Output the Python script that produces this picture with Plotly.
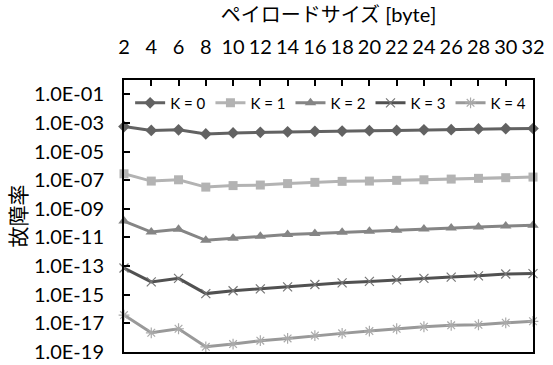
import plotly.graph_objects as go

payload = [2, 4, 6, 8, 10, 12, 14, 16, 18, 20, 22, 24, 26, 28, 30, 32]
k0 = [5.6e-4, 3.0e-4, 3.3e-4, 1.7e-4, 2.0e-4, 2.2e-4, 2.4e-4, 2.6e-4, 2.7e-4, 2.9e-4, 3.0e-4, 3.3e-4, 3.4e-4, 3.8e-4, 4.0e-4, 4.1e-4]
k1 = [2.8e-7, 8.7e-8, 1.07e-7, 3.3e-8, 4.2e-8, 4.6e-8, 5.8e-8, 7.1e-8, 8.3e-8, 8.7e-8, 9.8e-8, 1.07e-7, 1.2e-7, 1.35e-7, 1.5e-7, 1.66e-7]
k2 = [1.4e-10, 2.4e-11, 3.7e-11, 6.3e-12, 8.7e-12, 1.2e-11, 1.6e-11, 1.9e-11, 2.3e-11, 2.7e-11, 3.2e-11, 3.9e-11, 4.6e-11, 5.4e-11, 6.3e-11, 7.1e-11]
k3 = [7.4e-14, 7.9e-15, 1.4e-14, 1.2e-15, 1.9e-15, 2.6e-15, 3.5e-15, 5.2e-15, 6.8e-15, 8.5e-15, 1.1e-14, 1.4e-14, 1.7e-14, 2.1e-14, 2.8e-14, 3.0e-14]
k4 = [3.8e-17, 2.2e-18, 4.2e-18, 2.3e-19, 3.6e-19, 6.2e-19, 8.9e-19, 1.4e-18, 2.0e-18, 2.9e-18, 4.2e-18, 5.8e-18, 7.3e-18, 8.0e-18, 1.1e-17, 1.4e-17]
series_names = ["K = 0", "K = 1", "K = 2", "K = 3", "K = 4"]
y_tickvals = [1e-19, 1e-17, 1e-15, 1e-13, 1e-11, 1e-9, 1e-7, 1e-5, 1e-3, 1e-1]
y_ticktext = ["1.0E-19", "1.0E-17", "1.0E-15", "1.0E-13", "1.0E-11",
              "1.0E-09", "1.0E-07", "1.0E-05", "1.0E-03", "1.0E-01"]
x_title = "ペイロードサイズ [byte]"
y_title = "故障率"

FONT = "Lato, 'Noto Sans CJK JP', sans-serif"

styles = [
    dict(line_color="#626262", marker=dict(symbol="diamond", size=9, color="#626262")),
    dict(line_color="#b3b3b3", marker=dict(symbol="square", size=9, color="#b3b3b3")),
    dict(line_color="#858585", marker=dict(symbol="triangle-up", size=10, color="#858585")),
    dict(line_color="#515151", marker=dict(symbol="x-thin-open", size=9, color="#777777",
                                          line=dict(color="#777777", width=1.2))),
    dict(line_color="#999999", marker=dict(symbol="asterisk-open", size=9, color="#aaaaaa",
                                          line=dict(color="#aaaaaa", width=1.2))),
]

fig = go.Figure()
for name, vals, st in zip(series_names, [k0, k1, k2, k3, k4], styles):
    fig.add_trace(go.Scatter(
        x=payload, y=vals, name=name, mode="lines+markers",
        line=dict(color=st["line_color"], width=3),
        marker=st["marker"], cliponaxis=False,
    ))

fig.update_layout(
    width=553, height=365,
    margin=dict(l=124, r=20, t=80, b=13),
    paper_bgcolor="white", plot_bgcolor="white",
    font=dict(family=FONT, size=20, color="black"),
    showlegend=True,
    legend=dict(orientation="h", x=0.015, y=0.915, xanchor="left", yanchor="middle",
                bgcolor="rgba(0,0,0,0)", font=dict(size=15), itemwidth=30,
                tracegroupgap=0),
)
fig.update_xaxes(
    side="top", range=[2, 32], tickvals=payload, ticktext=[str(v) for v in payload],
    showline=True, linecolor="black", linewidth=2, mirror=True,
    ticks="inside", ticklen=6, tickcolor="black", tickwidth=1.5,
    showgrid=False, zeroline=False, ticklabelstandoff=16, automargin=False,
    title=dict(text=x_title, font=dict(size=20), standoff=6),
)
fig.update_yaxes(
    type="log", range=[-19, 0], tickvals=y_tickvals, ticktext=y_ticktext,
    showline=True, linecolor="black", linewidth=2, mirror=True,
    ticks="inside", ticklen=6, tickcolor="black", tickwidth=1.5,
    showgrid=False, zeroline=False, ticklabelstandoff=14, automargin=False,
    tickfont=dict(size=20),
    title=dict(text=y_title, font=dict(size=21), standoff=2),
)

fig.write_html("out.html", post_script="document.body.style.margin='0';",
               config={"displayModeBar": False})
